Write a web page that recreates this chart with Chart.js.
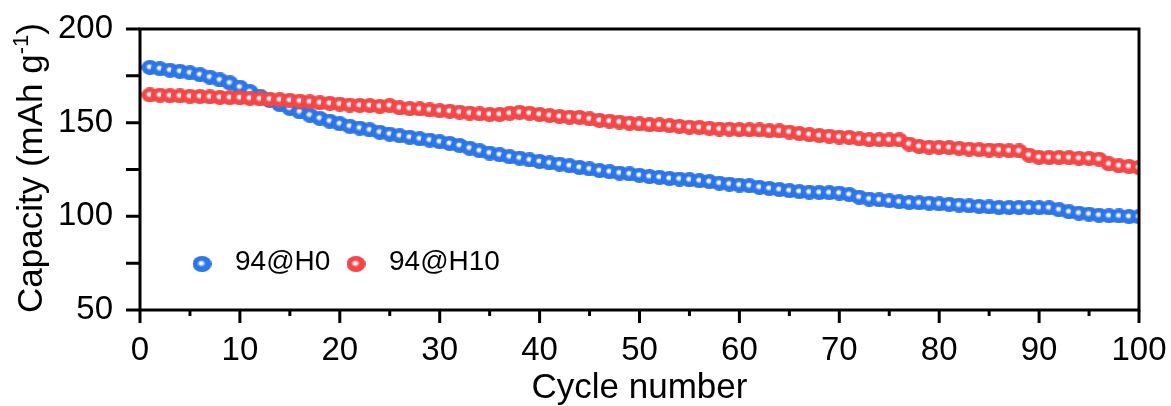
<!DOCTYPE html>
<html>
<head>
<meta charset="utf-8">
<script src="https://cdn.jsdelivr.net/npm/chart.js@4.4.1/dist/chart.umd.min.js"></script>
<style>
  html, body { margin: 0; padding: 0; background: #fff; }
</style>
</head>
<body>
<canvas id="cap" width="1171" height="406"></canvas>
<script>
const FONT = "'Liberation Sans', Arial, sans-serif";

// cycle index 1..100
const cycles = Array.from({ length: 100 }, (_, i) => i + 1);

// discharge capacity, mAh/g
const h0 = [
  179.5, 178.8, 178.0, 177.4, 176.6, 175.6, 174.3, 172.8, 171.2, 169.0,
  166.6, 164.2, 161.8, 159.6, 157.6, 155.7, 154.0, 152.3, 150.8, 149.4,
  148.1, 147.1, 146.1, 144.9, 143.9, 143.0, 142.2, 141.4, 140.7, 139.8,
  138.9, 137.8, 136.4, 135.0, 133.8, 132.9, 131.8, 131.1, 130.1, 129.3,
  128.5, 127.9, 127.0, 126.1, 125.3, 124.4, 123.8, 123.1, 122.6, 121.9,
  121.2, 120.8, 120.2, 119.9, 119.5, 119.0, 118.5, 117.7, 117.2, 116.7,
  116.3, 115.5, 114.9, 114.3, 113.7, 113.2, 112.9, 112.7, 112.6, 112.4,
  111.6, 110.2, 109.2, 108.8, 108.3, 107.8, 107.4, 107.2, 107.0, 106.6,
  106.4, 106.0, 105.6, 105.3, 105.0, 104.7, 104.7, 104.7, 104.7, 104.6,
  104.5, 103.5, 102.4, 101.7, 101.2, 100.6, 100.3, 100.2, 99.9, 99.8
];
const h10 = [
  164.8, 164.7, 164.4, 164.3, 164.1, 164.0, 163.8, 163.5, 163.4, 163.3,
  163.0, 162.7, 162.5, 162.2, 161.9, 161.5, 161.1, 160.6, 160.3, 159.9,
  159.4, 159.2, 159.1, 158.7, 159.1, 157.9, 157.5, 157.3, 156.8, 156.4,
  156.1, 155.6, 155.1, 154.7, 154.4, 154.4, 155.0, 155.5, 155.0, 154.4,
  153.8, 153.3, 152.9, 152.8, 152.0, 151.2, 150.8, 150.3, 149.7, 149.3,
  148.9, 148.8, 148.4, 148.0, 147.6, 147.4, 147.0, 146.6, 146.5, 146.3,
  146.2, 146.1, 145.7, 145.6, 145.0, 144.2, 143.6, 143.1, 142.8, 142.3,
  142.1, 141.4, 140.9, 140.9, 140.8, 140.8, 138.6, 137.3, 136.9, 136.8,
  136.7, 136.3, 135.9, 135.6, 135.4, 135.4, 135.0, 134.9, 132.7, 131.5,
  131.4, 131.4, 131.3, 131.0, 130.9, 130.5, 128.0, 127.0, 126.6, 126.1
];

const xTicks = [0, 10, 20, 30, 40, 50, 60, 70, 80, 90, 100];
const xMinor = [5, 15, 25, 35, 45, 55, 65, 75, 85, 95];
const yTicks = [50, 100, 150, 200];
const yMinor = [75, 125, 175];

// shaded ball used as the marker
function ball(base, dark, w, h) {
  const c = document.createElement('canvas');
  c.width = w; c.height = h;
  const g = c.getContext('2d');
  const r = h / 2;
  g.translate(w / 2, h / 2);
  g.scale(w / h, 1);
  const grad = g.createRadialGradient(-0.1 * r, -0.12 * r, 0, 0, 0, r);
  grad.addColorStop(0, '#ffffff');
  grad.addColorStop(0.16, '#f4f7ff');
  grad.addColorStop(0.44, base);
  grad.addColorStop(0.9, base);
  grad.addColorStop(1, dark);
  g.fillStyle = grad;
  g.beginPath();
  g.arc(0, 0, r, 0, Math.PI * 2);
  g.fill();
  return c;
}

const blueBall = ball('#2c76e9', '#2468d6', 17, 15);
const redBall = ball('#f44848', '#e43d3d', 17, 15);
const blueKey = ball('#2c76e9', '#2468d6', 19, 16);
const redKey = ball('#f44848', '#e43d3d', 19, 16);

// keep the plot box exactly where the padding puts it
const noOverflow = s => {
  s.paddingTop = 0; s.paddingBottom = 0; s.paddingLeft = 0; s.paddingRight = 0;
};

// frame, tick marks, rotated y title and the inline legend
const decor = {
  id: 'decor',
  afterDraw(chart) {
    const { ctx, chartArea: a, scales: { x, y } } = chart;
    ctx.save();
    ctx.strokeStyle = '#000';
    ctx.lineWidth = 3;
    ctx.beginPath();
    xTicks.forEach(v => {
      const px = x.getPixelForValue(v);
      ctx.moveTo(px, a.bottom); ctx.lineTo(px, a.bottom + 13);
    });
    xMinor.forEach(v => {
      const px = x.getPixelForValue(v);
      ctx.moveTo(px, a.bottom); ctx.lineTo(px, a.bottom + 6);
    });
    yTicks.concat(yMinor).forEach(v => {
      const py = y.getPixelForValue(v);
      ctx.moveTo(a.left, py); ctx.lineTo(a.left - 14, py);
    });
    ctx.stroke();
    ctx.strokeRect(a.left, a.top, a.right - a.left, a.bottom - a.top);

    // y title with superscript
    ctx.fillStyle = '#000';
    ctx.translate(42, 168);
    ctx.rotate(-Math.PI / 2);
    const big = '35px ' + FONT, small = '22px ' + FONT;
    ctx.font = big;
    const w1 = ctx.measureText('Capacity (mAh g').width;
    const w3 = ctx.measureText(')').width;
    ctx.font = small;
    const w2 = ctx.measureText('-1').width;
    let cx = -(w1 + w2 + w3) / 2;
    ctx.textBaseline = 'alphabetic';
    ctx.font = big;
    ctx.fillText('Capacity (mAh g', cx, 0); cx += w1;
    ctx.font = small;
    ctx.fillText('-1', cx, -14); cx += w2;
    ctx.font = big;
    ctx.fillText(')', cx, 0);
    ctx.restore();

    // legend
    ctx.save();
    ctx.font = '28px ' + FONT;
    ctx.fillStyle = '#000';
    ctx.textBaseline = 'middle';
    const keys = [blueKey, redKey];
    const keyX = [202, 356];
    chart.data.datasets.forEach((ds, i) => {
      const k = keys[i];
      ctx.drawImage(k, keyX[i] - k.width / 2, 264 - k.height / 2);
      ctx.fillText(ds.label, keyX[i] + 33, 262);
    });
    ctx.restore();
  }
};

new Chart(document.getElementById('cap'), {
  type: 'scatter',
  data: {
    datasets: [
      {
        label: '94@H0',
        data: cycles.map((c, i) => ({ x: c, y: h0[i] })),
        pointStyle: blueBall,
        order: 1
      },
      {
        label: '94@H10',
        data: cycles.map((c, i) => ({ x: c, y: h10[i] })),
        pointStyle: redBall,
        order: 0
      }
    ]
  },
  options: {
    responsive: false,
    animation: false,
    devicePixelRatio: 1,
    events: [],
    layout: { padding: { top: 29, right: 32, bottom: 0, left: 0 } },
    plugins: { legend: { display: false }, tooltip: { enabled: false } },
    scales: {
      x: {
        type: 'linear',
        min: 0,
        max: 100,
        afterBuildTicks: s => { s.ticks = xTicks.map(v => ({ value: v })); },
        afterFit: s => { s.height = 96; noOverflow(s); },
        grid: { display: false, drawTicks: false },
        border: { display: false },
        ticks: {
          color: '#000',
          font: { family: FONT, size: 33 },
          padding: 21,
          maxRotation: 0,
          autoSkip: false
        },
        title: {
          display: true,
          text: 'Cycle number',
          color: '#000',
          font: { family: FONT, size: 35, lineHeight: 1.0 },
          padding: { top: 0, bottom: 0 }
        }
      },
      y: {
        min: 50,
        max: 200,
        afterBuildTicks: s => { s.ticks = yTicks.map(v => ({ value: v })); },
        afterFit: s => { s.width = 140; noOverflow(s); },
        grid: { display: false, drawTicks: false },
        border: { display: false },
        ticks: {
          color: '#000',
          font: { family: FONT, size: 33 },
          padding: 27
        }
      }
    }
  },
  plugins: [decor]
});
</script>
</body>
</html>
